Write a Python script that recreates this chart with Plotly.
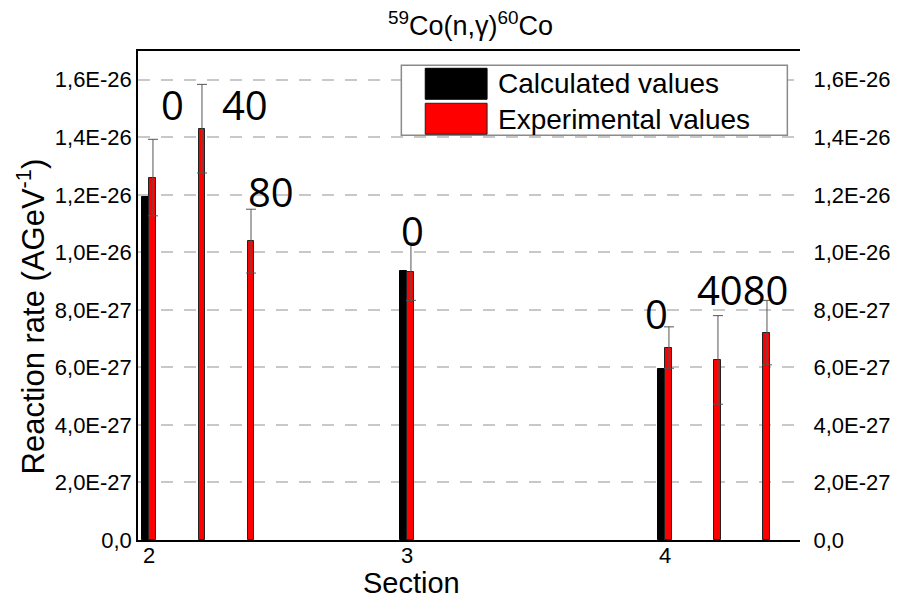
import plotly.graph_objects as go

# ---- data ----
sections = [2, 3, 4]
section_labels = ["2", "3", "4"]

calc_x = [1.986, 2.986, 3.986]
calc_values = [1.191e-26, 9.35e-27, 5.94e-27]

exp_x = [2.014, 2.204, 2.394, 3.014, 4.014, 4.204, 4.394]
exp_values = [1.260e-26, 1.430e-26, 1.039e-26, 9.33e-27, 6.69e-27, 6.26e-27, 7.21e-27]
exp_errors = [1.33e-27, 1.54e-27, 1.11e-27, 1.00e-27, 0.72e-27, 1.54e-27, 1.12e-27]

depth_label_text = ["0", "40", "80", "0", "0", "4080"]
depth_label_x = [2.088, 2.372, 2.473, 3.019, 3.966, 4.301]
depth_label_y = [1.514e-26, 1.514e-26, 1.210e-26, 1.077e-26, 7.89e-27, 8.70e-27]

y_tickvals = [0, 2e-27, 4e-27, 6e-27, 8e-27, 1e-26, 1.2e-26, 1.4e-26, 1.6e-26]
y_ticktext = ["0,0", "2,0E-27", "4,0E-27", "6,0E-27", "8,0E-27",
              "1,0E-26", "1,2E-26", "1,4E-26", "1,6E-26"]

legend_names = ["Calculated values", "Experimental values"]

FONT = "Liberation Sans, Arial, sans-serif"

fig = go.Figure()
fig.add_trace(go.Bar(
    x=calc_x, y=calc_values, width=0.028, name=legend_names[0],
    marker=dict(color="black", line=dict(color="black", width=1)),
    showlegend=False,
))
fig.add_trace(go.Bar(
    x=exp_x, y=exp_values, width=0.027, name=legend_names[1],
    marker=dict(color="#ff0000", line=dict(color="#222222", width=1)),
    error_y=dict(type="data", array=exp_errors, visible=True,
                 color="#555555", thickness=1, width=5),
    showlegend=False,
))
# invisible trace to activate right axis
fig.add_trace(go.Scatter(x=[sections[0]], y=[0], yaxis="y2", mode="markers",
                         marker=dict(opacity=0), showlegend=False, hoverinfo="skip"))

ann = []
for t, x, y in zip(depth_label_text, depth_label_x, depth_label_y):
    ann.append(dict(x=x, y=y, xref="x", yref="y", text=t, showarrow=False,
                    font=dict(family="Open Sans, sans-serif", size=40, color="black"),
                    xanchor="center", yanchor="middle"))

# x tick labels
for s, lab in zip(sections, section_labels):
    ann.append(dict(x=s, y=0, xref="x", yref="y", text=lab, showarrow=False,
                    font=dict(family=FONT, size=22, color="black"),
                    xanchor="center", yanchor="top", yshift=-1))

# title
ann.append(dict(x=0.5017, y=1.0546, xref="paper", yref="paper",
                text="<sup>59</sup>Co(n,γ)<sup>60</sup>Co", showarrow=False,
                font=dict(family=FONT, size=27, color="black"),
                xanchor="center", yanchor="middle"))
# axis titles
ann.append(dict(x=0.4128, y=-0.0879, xref="paper", yref="paper", text="Section",
                showarrow=False, font=dict(family=FONT, size=29, color="black"),
                xanchor="center", yanchor="middle"))
ann.append(dict(x=-0.1612, y=0.4578, xref="paper", yref="paper",
                text="Reaction rate (AGeV<sup>-1</sup>)", textangle=-90,
                showarrow=False, font=dict(family=FONT, size=31, color="black"),
                xanchor="center", yanchor="middle"))
# legend texts
ann.append(dict(x=0.5409, y=0.934, xref="paper", yref="paper", text=legend_names[0],
                showarrow=False, font=dict(family=FONT, size=28, color="black"),
                xanchor="left", yanchor="middle"))
ann.append(dict(x=0.5409, y=0.8604, xref="paper", yref="paper", text=legend_names[1],
                showarrow=False, font=dict(family=FONT, size=28, color="black"),
                xanchor="left", yanchor="middle"))

shapes = [
    dict(type="rect", xref="paper", yref="paper", x0=0.3978, x1=0.9809, y0=0.8277, y1=0.9708,
         fillcolor="white", line=dict(color="#8a8a8a", width=1.5), layer="above"),
    dict(type="rect", xref="paper", yref="paper", x0=0.4339, x1=0.5273, y0=0.9013, y1=0.9646,
         fillcolor="black", line=dict(color="black", width=1), layer="above"),
    dict(type="rect", xref="paper", yref="paper", x0=0.4339, x1=0.5273, y0=0.8298, y1=0.8931,
         fillcolor="#ff0000", line=dict(color="#222222", width=1), layer="above"),
]

fig.update_layout(
    width=902, height=600,
    margin=dict(l=138, r=100, t=51, b=60, pad=0),
    paper_bgcolor="white", plot_bgcolor="white",
    bargap=0, barmode="overlay",
    font=dict(family=FONT, size=22, color="black"),
    xaxis=dict(range=[1.956, 4.522], tickvals=sections, showticklabels=False,
               showgrid=False, zeroline=False, showline=True, linecolor="black",
               linewidth=1.5, mirror=True, ticks=""),
    yaxis=dict(range=[0, 1.7e-26], tickvals=y_tickvals, ticktext=y_ticktext,
               showgrid=True, gridcolor="#c8c8c8", gridwidth=2, griddash="12px,11px",
               zeroline=False, showline=True, linecolor="black", linewidth=1.5,
               ticks="", tickfont=dict(size=22)),
    yaxis2=dict(range=[0, 1.7e-26], tickvals=y_tickvals, ticktext=y_ticktext,
                overlaying="y", side="right", showgrid=False, zeroline=False,
                showline=False, ticks="outside", ticklen=8, tickcolor="rgba(0,0,0,0)",
                tickfont=dict(size=22)),
    annotations=ann, shapes=shapes,
)

fig.write_html("out.html")
